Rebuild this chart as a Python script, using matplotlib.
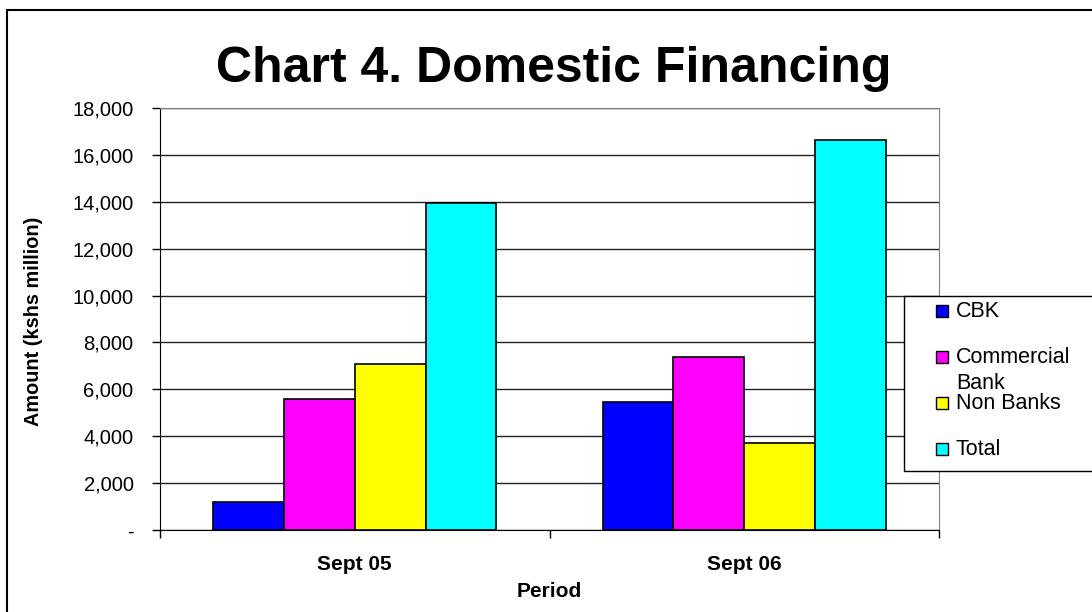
import matplotlib.pyplot as plt
import numpy as np
from matplotlib.patches import Rectangle
from matplotlib.ticker import FuncFormatter

plt.rcParams['font.family'] = ['Liberation Sans', 'DejaVu Sans']

periods = ['Sept 05', 'Sept 06']
series = ['CBK', 'Commercial\nBank', 'Non Banks', 'Total']
colors = ['#0000FF', '#FF00FF', '#FFFF00', '#00FFFF']
values = [
    [1200, 5440],    # CBK
    [5600, 7360],    # Commercial Bank
    [7060, 3700],    # Non Banks
    [13930, 16620],  # Total
]

fig = plt.figure(figsize=(10.92, 6.12), dpi=100)
ax = fig.add_axes([160/1092, 1-530/612, 779/1092, 422/612])

x = np.arange(len(periods))
w = 1/5.5  # excel gap width 150%
for i, vals in enumerate(values):
    ax.bar(x + (i-1.5)*w, vals, w, color=colors[i], edgecolor='black',
           linewidth=1.2, zorder=3)

ax.set_xlim(-0.5, 1.5)
ax.set_ylim(0, 18000)
ax.set_yticks(range(0, 18001, 2000))
ax.yaxis.set_major_formatter(FuncFormatter(lambda v, p: '-' if v == 0 else f'{v:,.0f}'))
ax.grid(axis='y', color='#222222', linewidth=1, zorder=0)

ax.set_xticks(x)
ax.set_xticklabels(periods, fontweight='bold', fontsize=15)
ax.set_xticks([-0.5, 0.5, 1.5], minor=True)
ax.tick_params(axis='x', which='major', length=0, pad=18)
ax.tick_params(axis='x', which='minor', length=6, width=1, color='black')
ax.tick_params(axis='y', length=6, width=1, labelsize=14.5, pad=13)

for s in ['top', 'right']:
    ax.spines[s].set_color('#808080')
ax.spines['left'].set_color('black')
ax.spines['bottom'].set_color('black')

ax.set_xlabel('Period', fontweight='bold', fontsize=15, labelpad=6)
ax.set_ylabel('Amount (kshs million)', fontweight='bold', fontsize=14.3)
ax.yaxis.set_label_coords(-117/779, (530-321)/422)

fig.text(554/1092, 1-82/612, 'Chart 4. Domestic Financing', ha='center', va='baseline',
         fontsize=36, fontweight='bold')

# outer chart border
fig.patches.append(Rectangle((7/1092, -0.1), 1.2, 1-10/612+0.1, transform=fig.transFigure,
                             fill=False, edgecolor='black', linewidth=1.5))

# legend box (drawn like the spreadsheet one, overflowing to the right)
fig.patches.append(Rectangle((904/1092, 1-471/612), 0.3, 175/612, transform=fig.transFigure,
                             facecolor='white', edgecolor='black', linewidth=1, zorder=5))
for i, name in enumerate(series):
    yc = 311 + 46*i
    fig.patches.append(Rectangle((936/1092, 1-(yc+6)/612), 12/1092, 12/612,
                                 transform=fig.transFigure, facecolor=colors[i],
                                 edgecolor='black', linewidth=1, zorder=6))
    for j, line in enumerate(name.split('\n')):
        fig.text(956/1092, 1-(yc+6+26*j)/612, line, ha='left', va='baseline',
                 fontsize=15.5, zorder=7)

fig.savefig('out.png', dpi=100)
